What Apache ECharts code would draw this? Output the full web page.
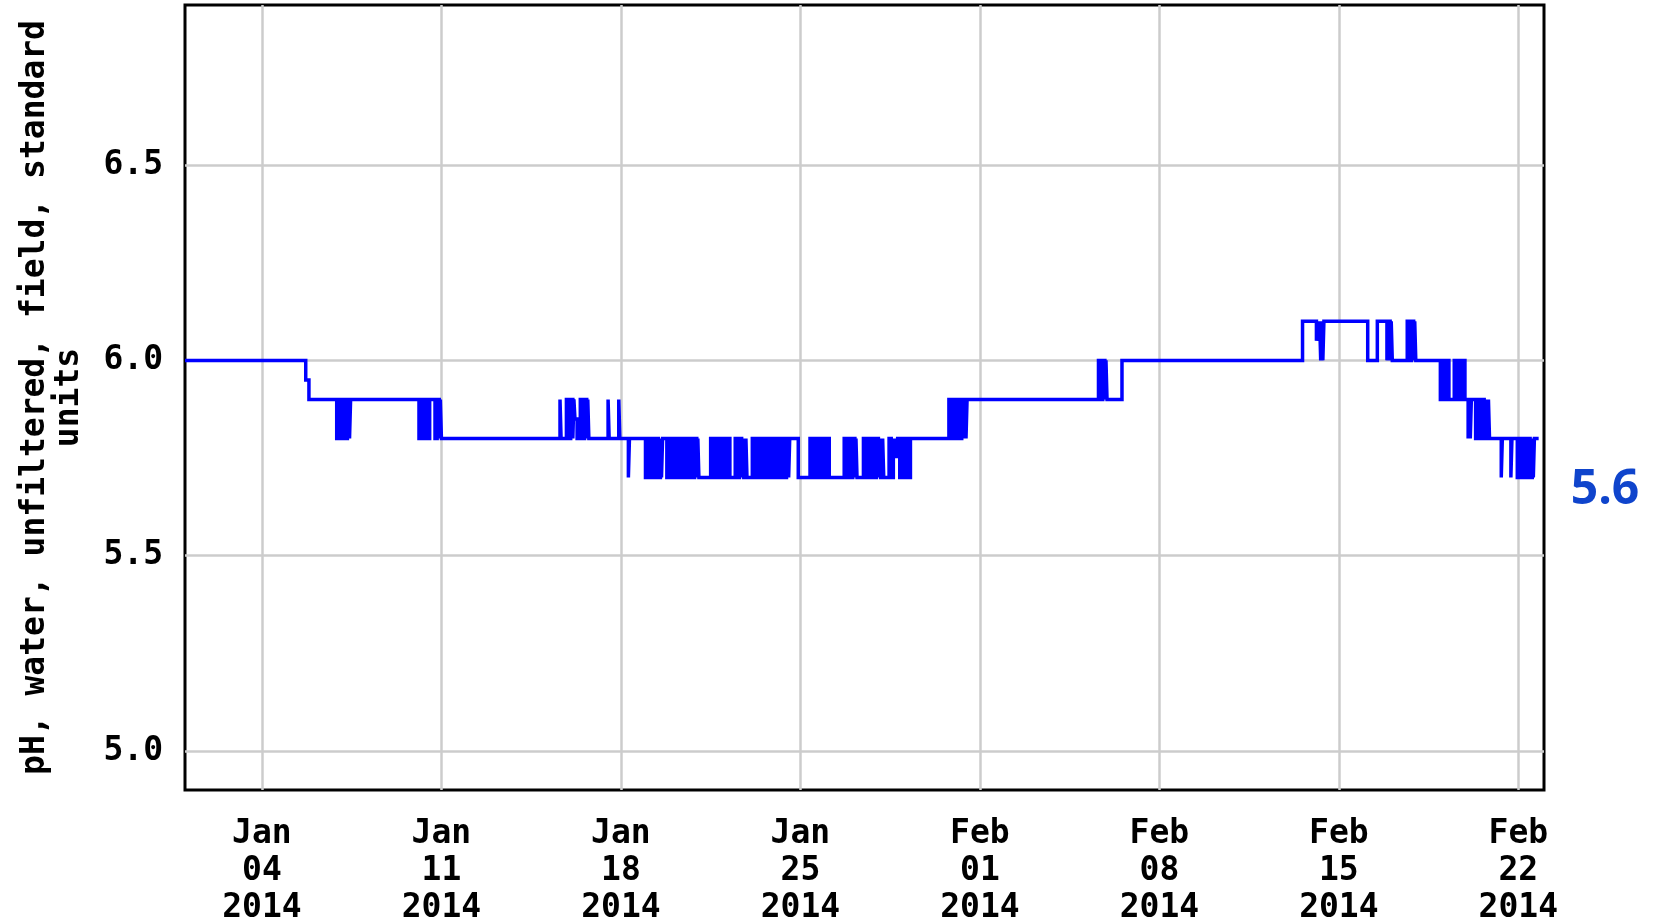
<!DOCTYPE html>
<html>
<head>
<meta charset="utf-8">
<title>pH, water, unfiltered, field</title>
<script src="https://cdn.jsdelivr.net/npm/echarts@6/dist/echarts.min.js"></script>
<style>
  html, body { margin: 0; padding: 0; background: #fff; }
  #chart { width: 1661px; height: 917px; }
</style>
</head>
<body>
<div id="chart"></div>
<script>
// readings: [hours since 2014-01-01 00:00, pH], each value holds until the next reading
const phSteps = [
  [0, 6.0], [113, 5.95], [116, 5.9],
  [142, 5.8], [144, 5.9], [146, 5.8], [148, 5.9], [150, 5.8], [152, 5.9], [154, 5.8], [155, 5.9],
  [219, 5.8], [221, 5.9], [223, 5.8], [225, 5.9], [227, 5.8], [229, 5.9],
  [234, 5.8], [236, 5.9], [238, 5.8], [239, 5.9], [240, 5.8],
  [351, 5.9], [352, 5.8],
  [357, 5.9], [359, 5.8], [361, 5.9], [363, 5.8], [364, 5.9], [365, 5.85], [367, 5.8],
  [370, 5.9], [372, 5.8], [374, 5.9], [376, 5.8], [377, 5.9], [378, 5.8],
  [396, 5.9], [397, 5.8],
  [406, 5.9], [407, 5.8],
  [415, 5.7], [416, 5.8],
  [431, 5.7], [433, 5.8], [435, 5.7], [437, 5.8], [439, 5.7], [441, 5.8], [443, 5.7], [445, 5.8], [446, 5.7], [447, 5.8],
  [451, 5.7], [453, 5.8], [455, 5.7], [457, 5.8], [459, 5.7], [461, 5.8], [463, 5.7], [465, 5.8],
  [467, 5.7], [469, 5.8], [471, 5.7], [473, 5.8], [475, 5.7], [477, 5.8], [479, 5.7], [480, 5.8], [481, 5.7],
  [492, 5.8], [494, 5.7], [496, 5.8], [498, 5.7], [500, 5.8], [502, 5.7], [504, 5.8], [506, 5.7], [508, 5.8], [510, 5.7],
  [515, 5.8], [517, 5.7], [519, 5.8], [521, 5.7], [522, 5.8], [523, 5.7],
  [525, 5.8], [526, 5.7],
  [531, 5.8], [533, 5.7], [535, 5.8], [537, 5.7], [539, 5.8], [541, 5.7], [543, 5.8], [545, 5.7], [547, 5.8], [549, 5.7],
  [551, 5.8], [553, 5.7], [555, 5.8], [557, 5.7], [559, 5.8], [561, 5.7], [563, 5.8], [565, 5.7], [566, 5.8],
  [574, 5.7],
  [585, 5.8], [587, 5.7], [589, 5.8], [591, 5.7], [593, 5.8], [595, 5.7], [597, 5.8], [599, 5.7], [601, 5.8], [603, 5.7],
  [617, 5.8], [619, 5.7], [621, 5.8], [623, 5.7], [625, 5.8], [627, 5.7], [628, 5.8], [629, 5.7],
  [635, 5.8], [637, 5.7], [639, 5.8], [641, 5.7], [643, 5.8], [645, 5.7], [647, 5.8], [649, 5.7], [650, 5.8], [651, 5.7],
  [653, 5.8], [654, 5.7],
  [659, 5.8], [661, 5.7], [663, 5.8], [664, 5.75], [665, 5.8], [666, 5.75], [667, 5.8],
  [669, 5.7], [671, 5.8], [673, 5.7], [675, 5.8], [677, 5.7], [679, 5.8],
  [715, 5.9], [717, 5.8], [719, 5.9], [721, 5.8], [723, 5.9], [725, 5.8], [727, 5.9], [729, 5.8], [730, 5.9], [731, 5.8], [732, 5.9],
  [855, 6.0], [857, 5.9], [859, 6.0], [861, 5.9], [862, 6.0], [863, 5.9],
  [877, 6.0],
  [1046, 6.1],
  [1059, 6.05], [1060, 6.1], [1061, 6.05], [1062, 6.1], [1063, 6.0], [1064, 6.1], [1065, 6.0], [1066, 6.1],
  [1107, 6.0], [1116, 6.1],
  [1125, 6.0], [1126, 6.1], [1128, 6.0], [1129, 6.1], [1130, 6.0],
  [1144, 6.1], [1146, 6.0], [1148, 6.1], [1150, 6.0], [1151, 6.1], [1152, 6.0],
  [1175, 5.9], [1177, 6.0], [1179, 5.9], [1181, 6.0], [1183, 5.9],
  [1188, 6.0], [1190, 5.9], [1192, 6.0], [1194, 5.9], [1196, 6.0], [1198, 5.9],
  [1201, 5.8], [1202, 5.9], [1203, 5.8], [1204, 5.9],
  [1208, 5.8], [1210, 5.9], [1212, 5.8], [1214, 5.9], [1216, 5.8], [1218, 5.9], [1219, 5.8], [1220, 5.9], [1221, 5.8],
  [1232, 5.7], [1233, 5.8],
  [1241, 5.7], [1242, 5.8],
  [1247, 5.7], [1249, 5.8], [1251, 5.7], [1253, 5.8], [1255, 5.7], [1257, 5.8], [1259, 5.7], [1261, 5.8], [1262, 5.7], [1263, 5.8],
  [1267, 5.8]
]

// x axis: hours since Jan 01 2014, weekly ticks
const xMinHour = 0
const xMaxHour = 1272
const tickHours = [72, 240, 408, 576, 744, 912, 1080, 1248]
const tickLabels = [
  'Jan\n04\n2014', 'Jan\n11\n2014', 'Jan\n18\n2014', 'Jan\n25\n2014',
  'Feb\n01\n2014', 'Feb\n08\n2014', 'Feb\n15\n2014', 'Feb\n22\n2014'
]

// y axis
const yMin = 4.9
const yMax = 6.91
const yTicks = [5.0, 5.5, 6.0, 6.5]
const yAxisName = 'pH, water, unfiltered, field, standard\nunits'
const latestValue = '5.6'

const monoFont = {
  fontFamily: 'DejaVu Sans Mono',
  fontWeight: 'bold',
  fontSize: 33,
  color: '#000'
}

const chart = echarts.init(document.getElementById('chart'))

chart.setOption({
  animation: false,
  backgroundColor: '#fff',
  grid: {
    left: 185,
    right: 117,
    top: 5,
    bottom: 127,
    outerBoundsMode: 'none',
    containLabel: false,
    show: true,
    borderColor: '#000',
    borderWidth: 3
  },
  xAxis: {
    type: 'value',
    min: xMinHour,
    max: xMaxHour,
    axisLine: { show: false },
    axisTick: { show: false, customValues: tickHours },
    splitLine: { show: true, lineStyle: { color: '#cccccc', width: 2.5 } },
    axisLabel: {
      ...monoFont,
      customValues: tickHours,
      lineHeight: 37,
      margin: 26,
      formatter: (v) => tickLabels[tickHours.indexOf(v)] || ''
    }
  },
  yAxis: {
    type: 'value',
    min: yMin,
    max: yMax,
    axisLine: { show: false },
    axisTick: { show: false, customValues: yTicks },
    splitLine: { show: true, lineStyle: { color: '#cccccc', width: 2.5 } },
    axisLabel: {
      ...monoFont,
      customValues: yTicks,
      margin: 22,
      formatter: (v) => v.toFixed(1)
    },
    name: yAxisName,
    nameLocation: 'middle',
    nameRotate: 90,
    nameGap: 99,
    nameTextStyle: { ...monoFont, lineHeight: 34 }
  },
  series: [
    {
      type: 'line',
      step: 'end',
      data: phSteps,
      showSymbol: false,
      silent: true,
      lineStyle: { color: '#0000ff', width: 3.5, join: 'miter' }
    }
  ],
  graphic: [
    {
      type: 'text',
      x: 1605,
      y: 490,
      style: {
        text: latestValue,
        font: 'bold 48px "Open Sans"',
        fill: '#0f44cc',
        align: 'center',
        verticalAlign: 'middle'
      }
    }
  ]
})

// the polyline drops segments shorter than ~2px, which thins out the
// rapid 5.7/5.8 switching; keep every segment so those runs draw solid
chart.getZr().storage.getDisplayList(true).forEach((el) => {
  if (el.shape && el.shape.points) {
    el.segmentIgnoreThreshold = 0
    el.dirtyShape()
  }
})
chart.getZr().refreshImmediately()
</script>
</body>
</html>
